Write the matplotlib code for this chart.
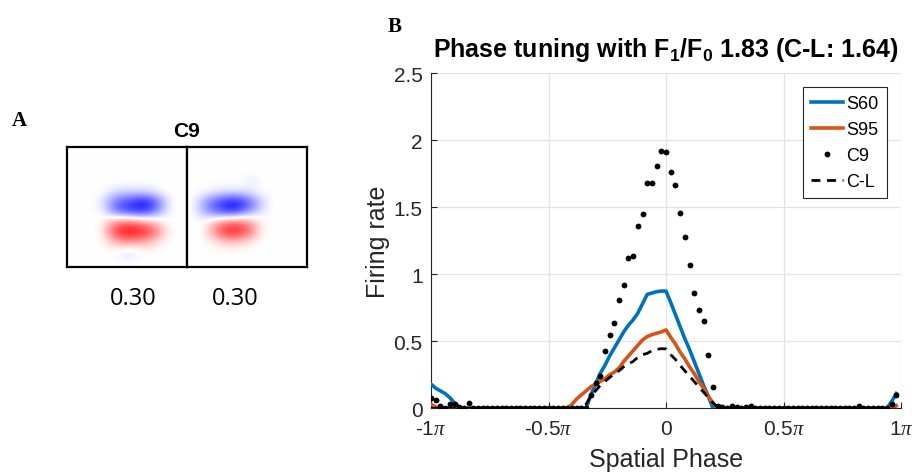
import matplotlib
matplotlib.use("Agg")
import matplotlib.pyplot as plt
import numpy as np

plt.rcParams["font.family"] = ["Liberation Sans", "DejaVu Sans"]
plt.rcParams["mathtext.fontset"] = "custom"
plt.rcParams["mathtext.rm"] = "Liberation Sans"
plt.rcParams["mathtext.bf"] = "Liberation Sans:bold"
plt.rcParams["mathtext.it"] = "Liberation Serif:italic"

# ---- data ----
n_phase = 100
s60 = ([0.18, 0.15, 0.13, 0.11, 0.08, 0.04] + [0.0] * 28 +
       [0.10, 0.18, 0.26, 0.32, 0.39, 0.45, 0.51, 0.57, 0.62, 0.66, 0.71, 0.78, 0.85,
        0.86, 0.87, 0.875, 0.875, 0.79, 0.70, 0.61, 0.52, 0.44, 0.35, 0.26, 0.17, 0.09] +
       [0.0] * 38 + [0.05, 0.11])
s95 = ([0.03, 0.01] + [0.0] * 28 +
       [0.03, 0.07, 0.10, 0.13, 0.16, 0.18, 0.20, 0.22, 0.25, 0.27, 0.30, 0.35, 0.39,
        0.43, 0.47, 0.51, 0.535, 0.55, 0.56, 0.57, 0.585, 0.53, 0.48, 0.42, 0.37, 0.31,
        0.26, 0.20, 0.15, 0.09, 0.04] +
       [0.0] * 38 + [0.02])
c9 = ([0.075, 0.065, 0.02, 0.0, 0.03, 0.03, 0.01, 0.0, 0.04] + [0.0] * 25 +
      [0.10, 0.19, 0.24, 0.43, 0.55, 0.64, 0.81, 0.92, 1.12, 1.14, 1.36, 1.45, 1.68, 1.68,
       1.81, 1.92, 1.91, 1.76, 1.67, 1.46, 1.28, 1.07, 0.86, 0.73, 0.65, 0.40, 0.16, 0.02] +
      [0.01, 0.0, 0.02, 0.01, 0.0, 0.01, 0.015] + [0.0] * 22 + [0.02] + [0.0] * 6 +
      [0.03, 0.10])
cl = ([0.0] * 33 +
      [0.03, 0.09, 0.13, 0.17, 0.20, 0.23, 0.255, 0.28, 0.31, 0.33, 0.35, 0.38, 0.40,
       0.41, 0.43, 0.44, 0.445, 0.443, 0.40, 0.365, 0.32, 0.28, 0.24, 0.20, 0.16, 0.12,
       0.08, 0.04, 0.01] +
      [0.0] * 38)

xtick_labels = [r"-1$\pi$", r"-0.5$\pi$", "0", r"0.5$\pi$", r"1$\pi$"]
ytick_values = [0, 0.5, 1, 1.5, 2, 2.5]
rf_labels = ["0.30", "0.30"]

# coarse receptive field maps (rows top to bottom), + = red, - = blue
z = [0.0] * 12
rf_left = [
    z, z, z, z,
    [0, 0, 0, 0, -0.1, -0.15, -0.15, -0.15, -0.1, 0, 0, 0],
    [0, 0, 0, -0.1, -0.45, -0.7, -0.8, -0.95, -0.8, -0.4, 0, 0],
    [0, 0, 0, -0.05, -0.4, -0.65, -0.75, -0.8, -0.6, -0.25, 0, 0],
    [0, 0, 0, 0.05, 0.35, 0.55, 0.55, 0.45, 0.3, 0.1, 0, 0],
    [0, 0, 0, 0.05, 0.6, 0.95, 1.0, 0.9, 0.7, 0.3, 0, 0],
    [0, 0, 0, 0, 0.2, 0.35, 0.35, 0.3, 0.2, 0.05, 0, 0],
    [0, 0, 0, 0, 0, -0.1, -0.15, 0, 0, 0, 0, 0],
    z,
]
rf_right = [
    z, z, z,
    [0, 0, 0, 0, 0, 0, -0.1, 0, 0, 0, 0, 0],
    [0, 0, -0.05, -0.1, -0.1, -0.1, -0.05, 0, 0, 0, 0, 0],
    [0, -0.3, -0.6, -0.8, -0.95, -0.85, -0.55, -0.2, 0, 0, 0, 0],
    [0, -0.25, -0.5, -0.7, -0.8, -0.6, -0.35, -0.1, 0, 0, 0, 0],
    [0, 0, 0.2, 0.45, 0.6, 0.55, 0.35, 0.05, 0, 0, 0, 0],
    [0, 0, 0.35, 0.75, 0.9, 0.8, 0.5, 0.05, 0, 0, 0, 0],
    [0, 0, 0.05, 0.15, 0.2, 0.15, 0.05, 0, 0, 0, 0, 0],
    z, z,
]

W, H = 915, 477
fig = plt.figure(figsize=(W / 100, H / 100), dpi=100)


def px_axes(x0, y0, x1, y1):
    """axes from pixel box (top-left origin)"""
    return fig.add_axes([x0 / W, 1 - y1 / H, (x1 - x0) / W, (y1 - y0) / H])


# ---- panel A ----
for i, rf in enumerate([rf_left, rf_right]):
    a = px_axes(67 + 120 * i, 148, 187 + 120 * i, 268)
    a.imshow(np.array(rf), cmap="bwr", vmin=-1, vmax=1, interpolation="bicubic",
             aspect="auto")
    a.set_xticks([])
    a.set_yticks([])
    for sp in a.spines.values():
        sp.set_linewidth(1.6)
        sp.set_color("black")

fig.text(186.7 / W, 1 - 136.7 / H, "C9", ha="center", va="baseline",
         fontsize=15, fontweight="bold")
for xc, lab in zip([133.3, 235.0], rf_labels):
    fig.text(xc / W, 1 - 299 / H, lab, ha="center", va="center",
             fontsize=17, family="Open Sans")
fig.text(11.7 / W, 1 - 126 / H, "A", va="baseline", fontsize=15,
         fontweight="bold", family="Liberation Serif")
fig.text(388 / W, 1 - 32 / H, "B", va="baseline", fontsize=15,
         fontweight="bold", family="Liberation Serif")

# ---- panel B ----
phase = np.linspace(-np.pi, np.pi, n_phase + 1)[:-1]
ax = px_axes(431, 74.3, 901, 409.3)

ax.plot(phase, s60, color="#0072BD", lw=2.6, label="S60", zorder=3)
ax.plot(phase, s95, color="#D95319", lw=2.6, label="S95", zorder=3)
ax.plot(phase, c9, "o", color="black", ms=4.2, mew=0, label="C9", zorder=4)
ax.plot(phase, cl, "--", color="black", lw=2.0, dashes=(3.2, 2.4), label="C-L", zorder=4)

ax.set_xlim(-np.pi, np.pi)
ax.set_ylim(0, 2.5)
ax.set_xticks(np.linspace(-np.pi, np.pi, 5))
ax.set_xticklabels(xtick_labels)
ax.set_yticks(ytick_values)
ax.set_yticklabels([f"{v:g}" for v in ytick_values])
ax.tick_params(direction="in", length=4, width=0.8, colors="#262626",
               labelsize=15, labelcolor="#262626")
ax.tick_params(axis="x", pad=8)
ax.tick_params(axis="y", pad=6)
ax.grid(True, color="#e3e3e3", lw=0.9)
ax.set_axisbelow(True)
for side in ["top", "right"]:
    ax.spines[side].set_visible(False)
for side in ["left", "bottom"]:
    ax.spines[side].set_color("#262626")
    ax.spines[side].set_linewidth(0.8)

ax.set_xlabel("Spatial Phase", fontsize=18, color="#262626", va="baseline")
ax.xaxis.set_label_coords(0.5, -0.172)
ax.set_ylabel("Firing rate", fontsize=18, color="#262626", va="center")
ax.yaxis.set_label_coords(-0.113, 0.5)

fig.text(665.5 / W, 1 - 56.7 / H,
         r"Phase tuning with $\mathbf{F_1/F_0}$ 1.83 (C-L: 1.64)",
         ha="center", va="baseline", fontsize=18, fontweight="bold")

leg = ax.legend(loc="upper right", bbox_to_anchor=(0.970, 0.959), borderaxespad=0,
                fontsize=13, handlelength=1.75, handletextpad=0.2, labelspacing=0.5,
                borderpad=0.45, numpoints=1, fancybox=False, framealpha=1)
leg.get_frame().set_edgecolor("#262626")
leg.get_frame().set_linewidth(0.8)

fig.savefig("out.png", dpi=100)
